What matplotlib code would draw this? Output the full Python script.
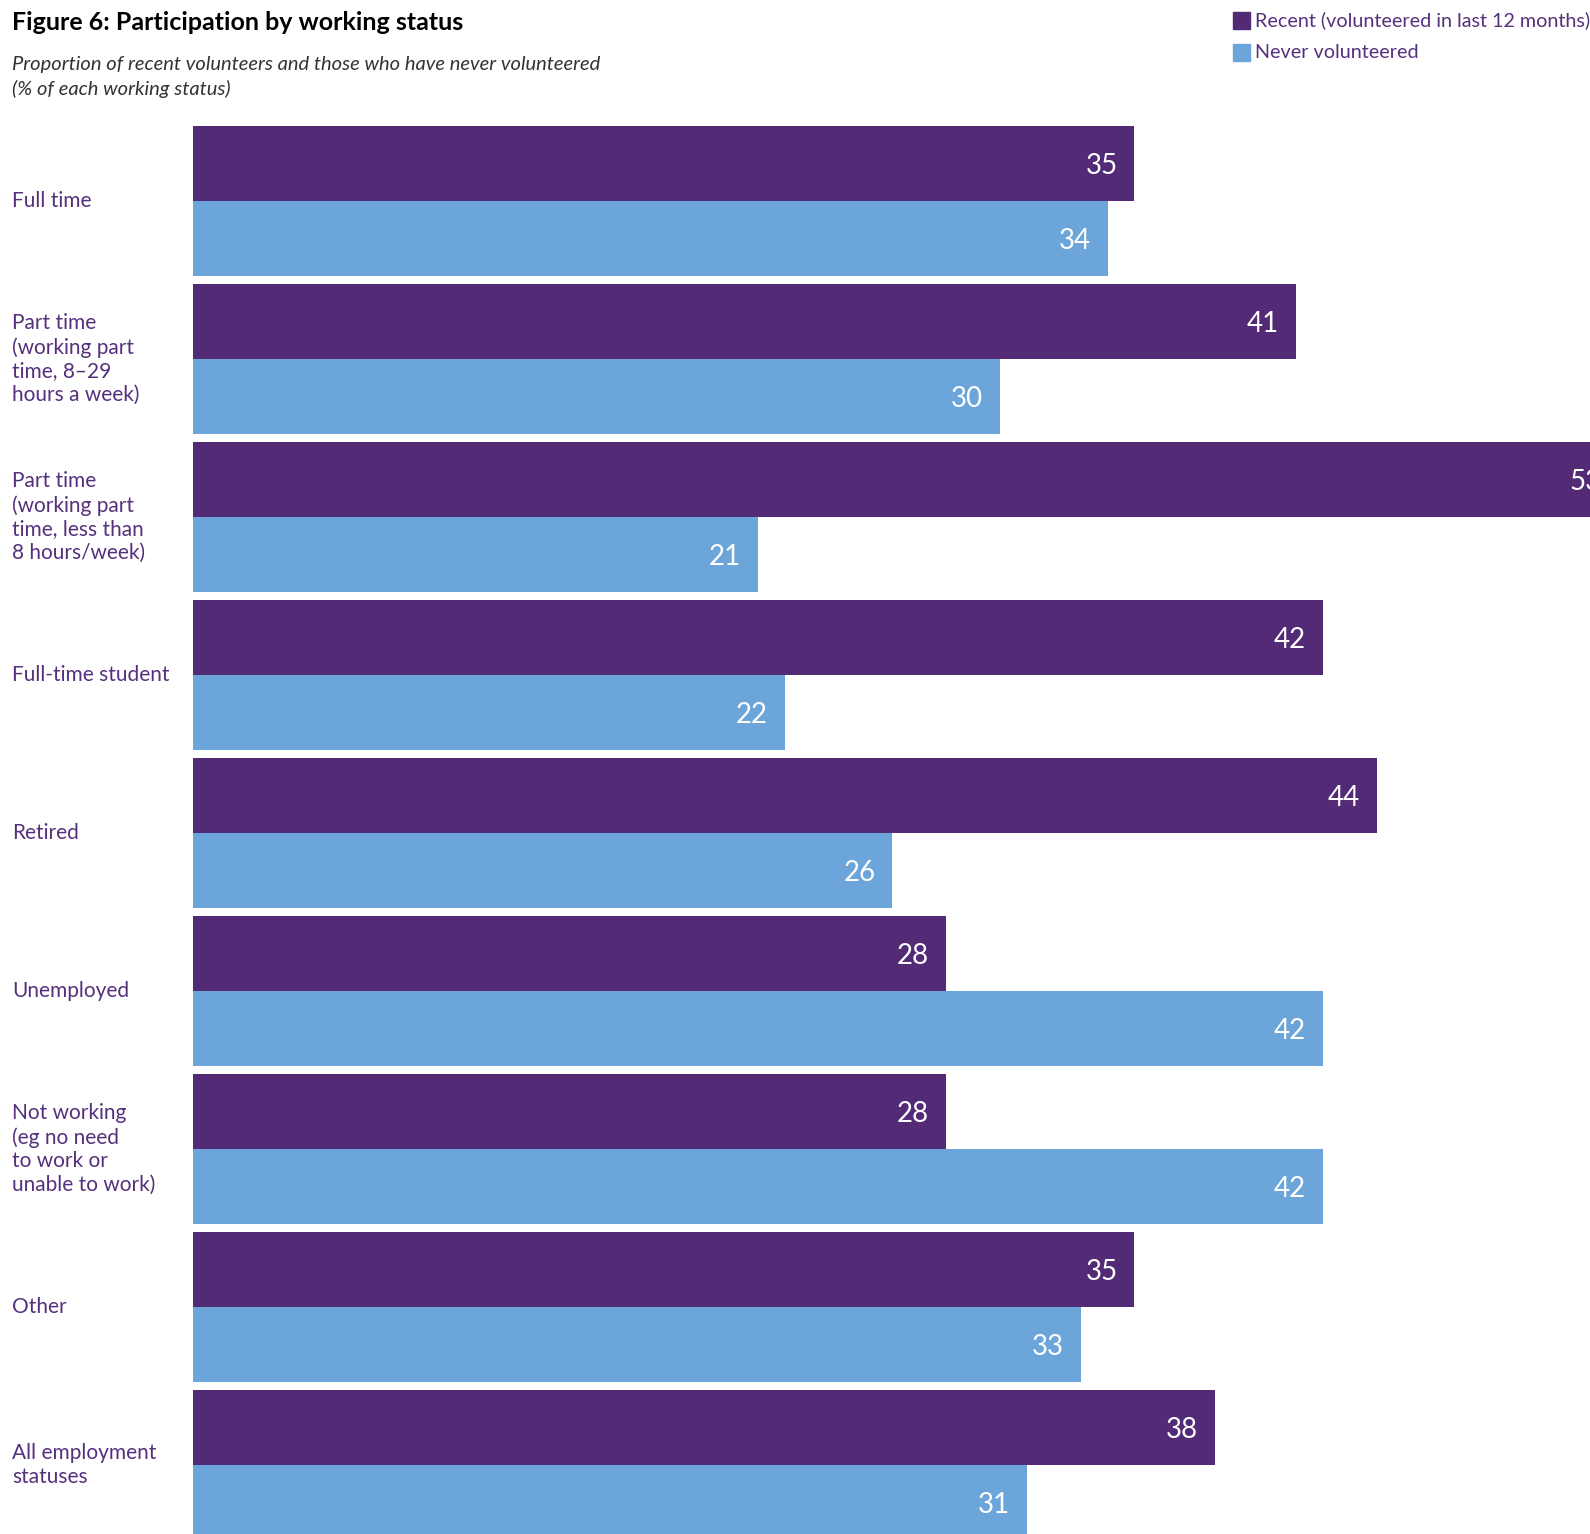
import matplotlib
matplotlib.use("Agg")
import matplotlib.pyplot as plt
import matplotlib.transforms as mtransforms
from matplotlib.patches import Rectangle

plt.rcParams['font.family'] = ['Lato', 'DejaVu Sans']

categories = ["Full time",
              "Part time\n(working part\ntime, 8\u201329\nhours a week)",
              "Part time\n(working part\ntime, less than\n8 hours/week)",
              "Full-time student",
              "Retired",
              "Unemployed",
              "Not working\n(eg no need\nto work or\nunable to work)",
              "Other",
              "All employment\nstatuses"]
recent = [35, 41, 53, 42, 44, 28, 28, 35, 38]
never = [34, 30, 21, 22, 26, 42, 42, 33, 31]

purple = '#522a76'
blue = '#6ca5da'
label_col = '#55307d'

W, H = 1590, 1534
fig = plt.figure(figsize=(W / 100, H / 100), dpi=100)

left_px = 193
px_per_unit = 26.9
pitch = 158.0
first_center = 201.0
ax = fig.add_axes([left_px / W, 0, 1 - left_px / W, 1])
ax.set_xlim(0, (W - left_px) / px_per_unit)
ax.set_ylim((H - first_center) / pitch, -first_center / pitch)
ax.axis('off')

bh = 75 / pitch
ys = list(range(len(categories)))
ax.barh([y - bh / 2 for y in ys], recent, height=bh, color=purple, linewidth=0)
ax.barh([y + bh / 2 for y in ys], never, height=bh, color=blue, linewidth=0)

# value labels inside the bar ends (53 runs off the page, as in the original)
off = 17 / px_per_unit
for y, r, n in zip(ys, recent, never):
    ax.text(r - off, y - bh / 2, str(r), color='white', fontsize=20,
            ha='right', va='center_baseline', clip_on=False)
    ax.text(n - off, y + bh / 2, str(n), color='white', fontsize=20,
            ha='right', va='center_baseline', clip_on=False)

trans = mtransforms.blended_transform_factory(fig.transFigure, ax.transData)
for y, c in zip(ys, categories):
    ax.text(12 / W, y, c, transform=trans, color=label_col, fontsize=15,
            ha='left', va='center', linespacing=1.22)

fig.text(12 / W, 1 - 23 / H, "Figure 6: Participation by working status",
         fontsize=18, fontweight='bold', color='black', ha='left', va='center')
fig.text(12 / W, 1 - 77 / H,
         "Proportion of recent volunteers and those who have never volunteered\n(% of each working status)",
         fontsize=14.5, style='italic', color='#333333',
         ha='left', va='center', linespacing=1.45)

# legend
leg = [("Recent (volunteered in last 12 months)", purple, 20),
       ("Never volunteered", blue, 52)]
for txt, col, yc in leg:
    fig.patches.append(Rectangle((1233 / W, 1 - (yc + 9) / H), 17 / W, 17 / H,
                                 transform=fig.transFigure, color=col))
    fig.text(1255 / W, 1 - yc / H, txt, fontsize=14.2, color=label_col,
             ha='left', va='center')

fig.savefig("out.png", dpi=100)
